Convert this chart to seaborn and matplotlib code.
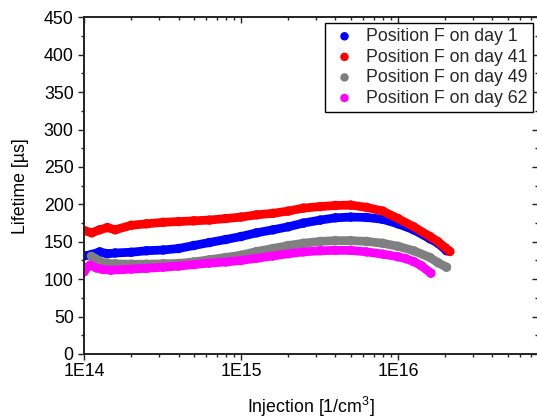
import numpy as np
import pandas as pd
import matplotlib
matplotlib.use("Agg")
import matplotlib.pyplot as plt
from matplotlib.ticker import FuncFormatter, MultipleLocator, LogLocator, NullFormatter
import seaborn as sns

# Injection level [1/cm^3] and effective lifetime [us] per measurement day
inj_day1 = [1.00e14, 1.12e14, 1.26e14, 1.41e14, 1.58e14, 2.0e14, 2.5e14, 3.2e14, 4.0e14,
            5.0e14, 6.3e14, 8.0e14, 1.0e15, 1.26e15, 1.6e15, 2.0e15, 2.5e15, 3.2e15,
            4.0e15, 5.0e15, 6.3e15, 8.0e15, 1.0e16, 1.26e16, 1.6e16, 1.8e16, 2.04e16]
tau_day1 = [131, 133, 136.5, 134, 135, 136, 138, 139, 141,
            145, 149, 153, 157, 162, 166, 170, 175, 179,
            182, 183, 182.5, 180, 174, 166, 154, 148, 138]

inj_day41 = [1.00e14, 1.12e14, 1.26e14, 1.41e14, 1.58e14, 2.0e14, 2.5e14, 3.2e14, 4.0e14,
             5.0e14, 6.3e14, 8.0e14, 1.0e15, 1.26e15, 1.6e15, 2.0e15, 2.5e15, 3.2e15,
             4.0e15, 5.0e15, 6.3e15, 8.0e15, 1.0e16, 1.26e16, 1.6e16, 1.8e16, 2.0e16, 2.14e16]
tau_day41 = [165, 162, 166, 169, 166, 172, 174, 176, 177,
             178, 179, 181, 183, 186, 188, 191, 195, 197,
             198.5, 199, 196, 191, 181, 170, 157, 150, 142, 137]

inj_day49 = [1.11e14, 1.20e14, 1.29e14, 1.41e14, 1.58e14, 2.0e14, 2.5e14, 3.2e14, 4.0e14,
             5.0e14, 6.3e14, 8.0e14, 1.0e15, 1.26e15, 1.6e15, 2.0e15, 2.5e15, 3.2e15,
             4.0e15, 5.0e15, 6.3e15, 8.0e15, 1.0e16, 1.26e16, 1.6e16, 1.8e16, 2.04e16]
tau_day49 = [131, 127, 123, 121, 120.5, 120, 120, 120.5, 121,
             123, 126, 129, 132, 137, 141, 145, 148, 150.5,
             151.5, 151.5, 150.5, 148, 144, 138, 129, 122, 116]

inj_day62 = [1.00e14, 1.05e14, 1.10e14, 1.20e14, 1.32e14, 1.48e14, 1.78e14, 2.0e14, 2.5e14,
             3.2e14, 4.0e14, 5.0e14, 6.3e14, 8.0e14, 1.0e15, 1.26e15, 1.6e15, 2.0e15,
             2.5e15, 3.2e15, 4.0e15, 5.0e15, 6.3e15, 8.0e15, 1.0e16, 1.12e16, 1.26e16,
             1.41e16, 1.62e16]
tau_day62 = [110, 116, 119, 115, 113, 112, 113, 113.5, 114.5,
             116, 117.5, 119.5, 121.5, 123, 125, 128, 131, 134,
             136.5, 138, 138.5, 138.5, 136.5, 133.5, 130, 127.5, 123.5,
             118, 108]

series_names = ["Position F on day 1", "Position F on day 41",
                "Position F on day 49", "Position F on day 62"]
series_colors = ["#0000FF", "#FF0000", "#808080", "#FF00FF"]

frames = []
for name, inj, tau in zip(series_names,
                          [inj_day1, inj_day41, inj_day49, inj_day62],
                          [tau_day1, tau_day41, tau_day49, tau_day62]):
    frames.append(pd.DataFrame({"Injection": inj, "Lifetime": tau, "Series": name}))
df = pd.concat(frames, ignore_index=True)
palette = dict(zip(series_names, series_colors))

sns.set_theme(style="ticks")
plt.rcParams["font.family"] = ["Liberation Sans", "DejaVu Sans"]
plt.rcParams["mathtext.fontset"] = "custom"
plt.rcParams["mathtext.rm"] = "Liberation Sans"
plt.rcParams["mathtext.it"] = "Liberation Sans"
plt.rcParams["mathtext.bf"] = "Liberation Sans"

FS = 12.8
fig = plt.figure(figsize=(5.37, 4.18), dpi=100)
ax = fig.add_axes([84 / 537, 64 / 418, (538 - 84) / 537, (354 - 17.3) / 418])
ax.set_facecolor("white")

# thick band along each curve, then the measured points on top
for name in series_names:
    sub = df[df["Series"] == name]
    sns.lineplot(data=sub, x="Injection", y="Lifetime", color=palette[name],
                 lw=6.3, estimator=None, sort=False, legend=False, ax=ax,
                 solid_capstyle="round", solid_joinstyle="round")
    sns.scatterplot(data=sub, x="Injection", y="Lifetime", color=palette[name],
                    s=46, edgecolor="none", linewidth=0, label=name, ax=ax)

ax.set_xscale("log")
ax.set_xlim(1e14, 7.8e16)
ax.set_ylim(0, 450)

ax.xaxis.set_major_locator(LogLocator(base=10))
ax.xaxis.set_minor_locator(LogLocator(base=10, subs=np.arange(2, 10)))
ax.xaxis.set_major_formatter(FuncFormatter(lambda v, p: "1E%d" % int(round(np.log10(v)))))
ax.xaxis.set_minor_formatter(NullFormatter())
ax.yaxis.set_major_locator(MultipleLocator(50))
ax.yaxis.set_minor_locator(MultipleLocator(25))

axis_col = "#222222"
for sp in ax.spines.values():
    sp.set_visible(True)
    sp.set_linewidth(1.4)
    sp.set_color(axis_col)

ax.tick_params(axis="both", which="both", colors=axis_col, labelcolor="black",
               labelsize=FS, width=1.0)
ax.tick_params(axis="both", which="major", length=4.4)
ax.tick_params(axis="both", which="minor", length=2.2)
ax.tick_params(axis="x", which="both", direction="out", top=True, pad=2)
ax.tick_params(axis="y", which="both", direction="out", right=True, pad=3)
# mirrored ticks on top and right point inward
for t in ax.xaxis.get_major_ticks() + ax.xaxis.get_minor_ticks():
    t.tick2line.set_marker(3)
for t in ax.yaxis.get_major_ticks() + ax.yaxis.get_minor_ticks():
    t.tick2line.set_marker(0)

ax.set_xlabel("Injection [1/cm$^3$]", fontsize=FS, labelpad=11, color="black")
ax.set_ylabel("Lifetime [µs]", fontsize=FS, labelpad=11, color="black")

leg = ax.legend(loc="upper right", fontsize=FS, frameon=True, fancybox=False,
                framealpha=1, edgecolor="black", borderpad=0.3, borderaxespad=0.3,
                handlelength=1.6, handletextpad=0.4, labelspacing=0.2,
                markerscale=0.9)
leg.get_frame().set_linewidth(1.0)

fig.savefig("out.png", dpi=100, facecolor="white")
